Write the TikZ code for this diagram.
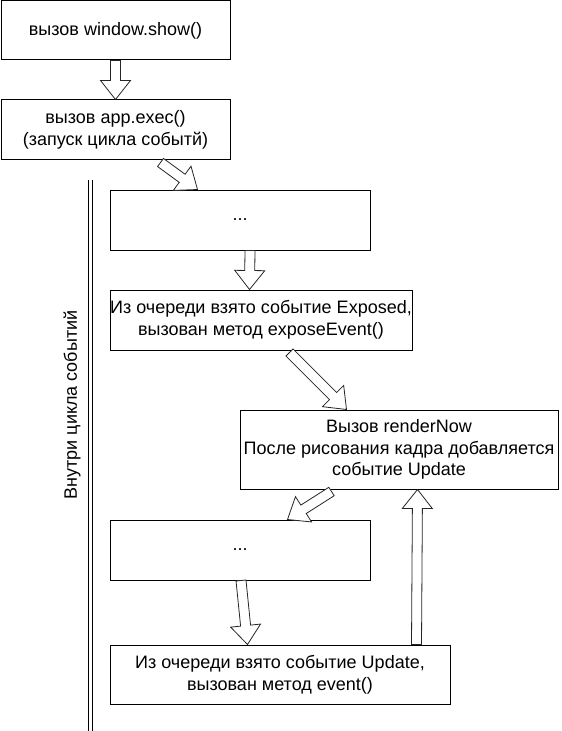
\documentclass[tikz,border=0pt]{standalone}
\usepackage{fontspec}
\setmainfont{Liberation Sans}
\usepackage{tikz}
\usetikzlibrary{calc}

% hollow block arrow from #1 (tail) to #2 (tip)
\newcommand{\hollowarrow}[2]{%
  \coordinate (hb) at ($(#2)!14.25pt!(#1)$);
  \draw[hollow] ($(#1)!3.75pt!90:(#2)$) -- ($(hb)!3.75pt!-90:(#1)$) -- ($(hb)!11.25pt!-90:(#1)$) -- (#2)
    -- ($(hb)!11.25pt!90:(#1)$) -- ($(hb)!3.75pt!90:(#1)$) -- ($(#1)!3.75pt!-90:(#2)$) -- cycle;
}

\begin{document}
\begin{tikzpicture}[x=0.75pt,y=-0.75pt,
            box/.style={draw, line width=0.75pt, inner sep=0pt, align=center,
                        font=\fontsize{13.5}{16.2}\selectfont},
            hollow/.style={draw=black!85, line width=0.6pt, fill=white, line join=miter}]
        \useasboundingbox (0,0) rectangle (561,731);

        \node[box, minimum width=171.75pt, minimum height=44.25pt] (show) at (115.5,30.5) {вызов window.show()};
        \node[box, minimum width=171.75pt, minimum height=45pt] (exec) at (115.5,130) {вызов app.exec()\\(запуск цикла событй)};
        \node[box, minimum width=195pt, minimum height=45pt] (dots1) at (240,220) {...};
        \node[box, minimum width=226.5pt, minimum height=45pt] (exposed) at (261,320) {Из очереди взято событие Exposed,\\вызован метод exposeEvent()};
        \node[box, minimum width=238.5pt, minimum height=59.25pt] (render) at (399,449.5) {Вызов renderNow\\После рисования кадра добавляется\\событие Update};
        \node[box, minimum width=195pt, minimum height=45pt] (dots2) at (240,550) {...};
        \node[box, minimum width=255pt, minimum height=44.25pt] (update) at (280,674.5) {Из очереди взято событие Update,\\вызован метод event()};

        \node[rotate=90, font=\fontsize{13.5}{16.2}\selectfont] (loop) at (72,405) {Внутри цикла событий};
        \draw[double, line width=0.75pt, double distance=2.25pt] (90.3,180) -- (90.3,731);

        \coordinate (a2s) at ($(exec.south)+(45,2)$);
        \coordinate (a2e) at ($(dots1.north west)+(88,0)$);
        \coordinate (a3s) at ($(dots1.south)+(10,0)$);
        \coordinate (a3e) at ($(exposed.north west)+(140,0)$);
        \coordinate (a4s) at ($(exposed.south west)+(180,2)$);
        \coordinate (a4e) at ($(render.north west)+(107,0)$);
        \coordinate (a5s) at ($(render.south west)+(92,2)$);
        \coordinate (a5e) at ($(dots2.north west)+(178,0)$);
        \coordinate (a6s) at ($(dots2.south)+(1,0)$);
        \coordinate (a6e) at ($(update.north west)+(138,0)$);
        \coordinate (a7s) at ($(update.north east)+(-34,0)$);
        \coordinate (a7e) at ($(render.south west)+(178,0)$);

        \hollowarrow{show.south}{exec.north}
        \hollowarrow{a2s}{a2e}
        \hollowarrow{a3s}{a3e}
        \hollowarrow{a4s}{a4e}
        \hollowarrow{a5s}{a5e}
        \hollowarrow{a6s}{a6e}
        \hollowarrow{a7s}{a7e}
    \end{tikzpicture}
\end{document}
